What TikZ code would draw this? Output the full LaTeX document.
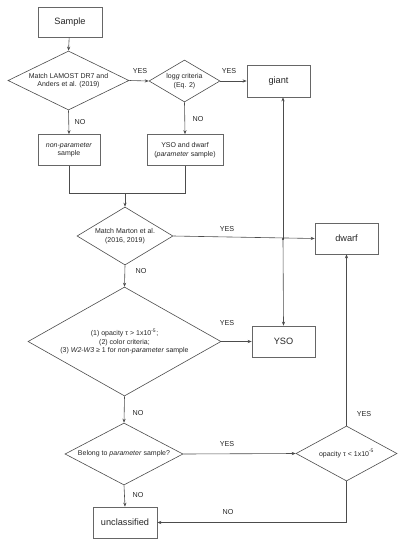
\documentclass[tikz,border=0pt]{standalone}
\usepackage{fontspec}
\setmainfont{Liberation Sans}
\usetikzlibrary{shapes.geometric,arrows.meta}
\begin{document}
\begin{tikzpicture}[x=1pt,y=-1pt,
  every node/.style={text=black!85},
  line/.style={draw=black!70,line width=0.6pt},
  arr/.style={line,-{Stealth[length=4pt,width=3.2pt]}},
  boxnode/.style={draw=black!60,line width=0.7pt,rectangle,inner sep=0pt,align=center},
  dia/.style={draw=black!70,line width=0.6pt,diamond,inner sep=0pt},
  dtext/.style={font=\fontsize{7}{8.4}\selectfont,align=center},
  lab/.style={font=\fontsize{7.2}{8}\selectfont}]
\useasboundingbox (0,0) rectangle (407,547);
% boxes
\node[boxnode,minimum width=64pt,minimum height=30pt,font=\fontsize{9.2}{11}\selectfont] (sample) at (70,22) {Sample};
\node[boxnode,minimum width=63pt,minimum height=32pt,font=\fontsize{9.2}{11}\selectfont] (giant) at (278.5,81) {giant};
\node[boxnode,minimum width=62pt,minimum height=31pt,font=\fontsize{7}{8.6}\selectfont] (np) at (69,150) {\textit{non-parameter}\\sample};
\node[boxnode,minimum width=76pt,minimum height=31pt,font=\fontsize{7}{8.6}\selectfont] (yd) at (185,150) {YSO and dwarf\\(\textit{parameter} sample)};
\node[boxnode,minimum width=63pt,minimum height=31pt,font=\fontsize{9.2}{11}\selectfont] (dwarf) at (346.5,238.5) {dwarf};
\node[boxnode,minimum width=63pt,minimum height=31pt,font=\fontsize{9.2}{11}\selectfont] (yso) at (283.5,341.5) {YSO};
\node[boxnode,minimum width=64pt,minimum height=31pt,font=\fontsize{9.2}{11}\selectfont] (uncl) at (125,522.5) {unclassified};
% diamonds
\node[dia,minimum width=121pt,minimum height=59pt] (d1) at (68.5,80.5) {};
\node[dtext] (t1) at (d1) {Match LAMOST DR7 and\\Anders et al. (2019)};
\node[dia,minimum width=71pt,minimum height=42pt] (d2) at (184.5,81) {};
\node[dtext] (t2) at (d2) {log\textit{g} criteria\\(Eq. 2)};
\node[dia,minimum width=96pt,minimum height=58pt] (d3) at (125,236) {};
\node[dtext] (t3) at (d3) {Match Marton et al.\\(2016, 2019)};
\node[dia,minimum width=193pt,minimum height=109pt] (d4) at (124.5,341.5) {};
\node[dtext] (t4) at (d4) {(1) opacity τ > 1x10\textsuperscript{-5};\\(2) color criteria;\\(3) \textit{W2}-\textit{W3} ≥ 1 for \textit{non-parameter} sample};
\node[dia,minimum width=118pt,minimum height=62pt] (d5) at (124,454) {};
\node[dtext] (t5) at (d5) {Belong to \textit{parameter} sample?};
\node[dia,minimum width=101pt,minimum height=55pt] (d6) at (346.5,453.5) {};
\node[dtext] (t6) at (d6) {opacity τ < 1x10\textsuperscript{-5}};
% coordinates
\coordinate (m1) at (np.south |- 0,193);
\coordinate (m2) at (yd.south |- 0,193);
\coordinate (m3) at (d3.north |- 0,193);
\coordinate (j) at (283,239);
\coordinate (c6) at (d6.south |- uncl.east);
% connectors
\draw[arr] (sample) -- (d1.north);
\draw[arr] (d1.east) -- (d2.west);
\draw[arr] (d2.east) -- (giant.west);
\draw[arr] (d1.south) -- (np.north);
\draw[arr] (d2.south) -- (yd.north);
\draw[line] (np.south) -- (m1) -- (m2) -- (yd.south);
\draw[arr] (m3) -- (d3.north);
\draw[arr] (d3.east) -- (dwarf.west);
\draw[arr] (j) -- (j |- giant.south);
\draw[arr] (j) -- (yso.north);
\fill[black!80] (j) circle (1.2pt);
\draw[arr] (d3.south) -- (d4.north);
\draw[arr] (d4.east) -- (yso.west);
\draw[arr] (d4.south) -- (d5.north);
\draw[arr] (d5.east) -- (d6.west);
\draw[arr] (d6.north) -- (dwarf.south);
\draw[arr] (d6.south) -- (c6) -- (uncl.east);
\draw[arr] (d5.south) -- (uncl.north);
% labels
\node[lab] (l1) at (140,71) {YES};
\node[lab] (l2) at (229,71) {YES};
\node[lab] (l3) at (80,122) {NO};
\node[lab] (l4) at (198,119) {NO};
\node[lab] (l5) at (227,229) {YES};
\node[lab] (l6) at (141,271) {NO};
\node[lab] (l7) at (227,323) {YES};
\node[lab] (l8) at (138,413) {NO};
\node[lab] (l9) at (227,444) {YES};
\node[lab] (l10) at (364,414) {YES};
\node[lab] (l11) at (138,495) {NO};
\node[lab] (l12) at (228,512) {NO};
\end{tikzpicture}
\end{document}
